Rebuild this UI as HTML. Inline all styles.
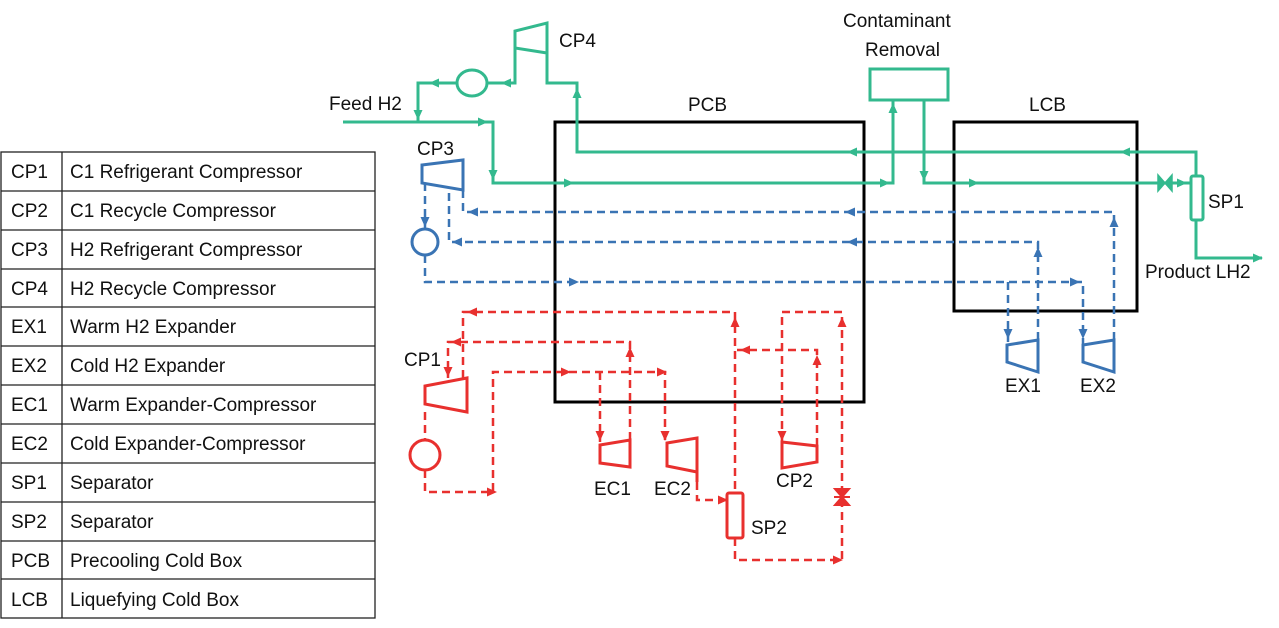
<!DOCTYPE html>
<html><head><meta charset="utf-8"><style>
html,body{margin:0;padding:0;background:#fff;}
svg{display:block;font-family:"Liberation Sans",Calibri,sans-serif;}
</style></head><body>
<svg width="1279" height="628" viewBox="0 0 1279 628" xmlns="http://www.w3.org/2000/svg">
<defs>
<marker id="g" markerWidth="12" markerHeight="12" refX="9" refY="6" orient="auto" markerUnits="userSpaceOnUse"><path d="M0,1.5 L10,6 L0,10.5 z" fill="#33b98e"/></marker>
<marker id="b" markerWidth="12" markerHeight="12" refX="9" refY="6" orient="auto" markerUnits="userSpaceOnUse"><path d="M0,1.5 L10,6 L0,10.5 z" fill="#3a74b4"/></marker>
<marker id="r" markerWidth="12" markerHeight="12" refX="9" refY="6" orient="auto" markerUnits="userSpaceOnUse"><path d="M0,1.5 L10,6 L0,10.5 z" fill="#e8302e"/></marker>
</defs>

<!-- table -->
<g stroke="#222" stroke-width="1.3" fill="none">
<rect x="1" y="152" width="374" height="466"/>
<line x1="62" y1="152" x2="62" y2="618"/>
<line x1="1" y1="191" x2="375" y2="191"/><line x1="1" y1="230" x2="375" y2="230"/>
<line x1="1" y1="269" x2="375" y2="269"/><line x1="1" y1="307" x2="375" y2="307"/>
<line x1="1" y1="346" x2="375" y2="346"/><line x1="1" y1="385" x2="375" y2="385"/>
<line x1="1" y1="424" x2="375" y2="424"/><line x1="1" y1="463" x2="375" y2="463"/>
<line x1="1" y1="502" x2="375" y2="502"/><line x1="1" y1="541" x2="375" y2="541"/>
<line x1="1" y1="579" x2="375" y2="579"/>
</g>
<g font-size="19" fill="#111">
<text x="11" y="178">CP1</text><text x="70" y="178">C1 Refrigerant Compressor</text>
<text x="11" y="217">CP2</text><text x="70" y="217">C1 Recycle Compressor</text>
<text x="11" y="256">CP3</text><text x="70" y="256">H2 Refrigerant Compressor</text>
<text x="11" y="295">CP4</text><text x="70" y="295">H2 Recycle Compressor</text>
<text x="11" y="333">EX1</text><text x="70" y="333">Warm H2 Expander</text>
<text x="11" y="372">EX2</text><text x="70" y="372">Cold H2 Expander</text>
<text x="11" y="411">EC1</text><text x="70" y="411">Warm Expander-Compressor</text>
<text x="11" y="450">EC2</text><text x="70" y="450">Cold Expander-Compressor</text>
<text x="11" y="489">SP1</text><text x="70" y="489">Separator</text>
<text x="11" y="528">SP2</text><text x="70" y="528">Separator</text>
<text x="11" y="567">PCB</text><text x="70" y="567">Precooling Cold Box</text>
<text x="11" y="606">LCB</text><text x="70" y="606">Liquefying Cold Box</text>
</g>

<!-- boxes -->
<rect x="555" y="122" width="309" height="280" fill="none" stroke="#000" stroke-width="3"/>
<rect x="954" y="122" width="183" height="189" fill="none" stroke="#000" stroke-width="3"/>

<!-- labels -->
<g font-size="19" fill="#111">
<text x="688" y="111">PCB</text><text x="1029" y="111">LCB</text>
<text x="843" y="27">Contaminant</text><text x="865" y="56">Removal</text>
<text x="329" y="110">Feed H2</text><text x="559" y="47">CP4</text>
<text x="417" y="155">CP3</text><text x="404" y="366">CP1</text>
<text x="1208" y="208">SP1</text><text x="1145" y="278">Product LH2</text>
<text x="1005" y="392">EX1</text><text x="1080" y="392">EX2</text>
<text x="594" y="495">EC1</text><text x="654" y="495">EC2</text>
<text x="776" y="487">CP2</text><text x="751" y="534">SP2</text>
</g>

<!-- green -->
<g stroke="#33b98e" stroke-width="3" fill="none">
<path d="M343 122 H493 V183 H893 V100"/>
<rect x="870" y="69" width="78" height="31"/>
<path d="M924 100 V183 H1190"/>
<rect x="1191" y="176" width="12" height="44" rx="2"/>
<path d="M1196 176 V152 H577 V83 H547 V23 L515 31 V48 L547 53"/>
<path d="M515 48 V83 H487"/>
<ellipse cx="472" cy="83" rx="15" ry="13"/>
<path d="M457 83 H418 V122"/>
<path d="M1196 220 V258 H1262"/>
</g>
<path d="M1158 175 L1172 191 L1172 175 L1158 191 Z" fill="#33b98e" stroke="#33b98e" stroke-width="1.5"/>
<g stroke="#33b98e" stroke-width="1" fill="none">
<path d="M484 122 h3" marker-end="url(#g)"/>
<path d="M418 115 v4" marker-end="url(#g)"/>
<path d="M433 83 h-3" marker-end="url(#g)"/>
<path d="M505 83 h-3" marker-end="url(#g)"/>
<path d="M577 92 v-3" marker-end="url(#g)"/>
<path d="M493 176 v3" marker-end="url(#g)"/>
<path d="M570 183 h3" marker-end="url(#g)"/>
<path d="M885 183 h4" marker-end="url(#g)"/>
<path d="M893 110 v-6" marker-end="url(#g)"/>
<path d="M924 176 v4" marker-end="url(#g)"/>
<path d="M975 183 h3" marker-end="url(#g)"/>
<path d="M1183 183 h3" marker-end="url(#g)"/>
<path d="M1124 152 h-3" marker-end="url(#g)"/>
<path d="M851 152 h-3" marker-end="url(#g)"/>
<path d="M1258 258 h4" marker-end="url(#g)"/>
</g>

<!-- blue -->
<g stroke="#3a74b4" stroke-width="3" fill="none">
<path d="M422 165 L463 160 V190 L422 183 Z"/>
<ellipse cx="425" cy="242" rx="13" ry="13"/>
<path d="M1007 345 L1038 340 V372 L1007 362 Z"/>
<path d="M1083 345 L1114 340 V372 L1083 362 Z"/>
</g>
<g stroke="#3a74b4" stroke-width="2.5" fill="none" stroke-dasharray="8 5">
<path d="M1114 340 V212 H463 V190"/>
<path d="M1038 340 V242 H449 V190"/>
<path d="M425 183 V229"/>
<path d="M425 255 V282 H1083 V345"/>
<path d="M1008 282 V345"/>
</g>
<g stroke="#3a74b4" stroke-width="1" fill="none">
<path d="M472 212 h-3" marker-end="url(#b)"/>
<path d="M849 212 h-3" marker-end="url(#b)"/>
<path d="M456 242 h-3" marker-end="url(#b)"/>
<path d="M851 242 h-3" marker-end="url(#b)"/>
<path d="M425 222 v4" marker-end="url(#b)"/>
<path d="M574 282 h4" marker-end="url(#b)"/>
<path d="M1075 282 h4" marker-end="url(#b)"/>
<path d="M1008 334 v4" marker-end="url(#b)"/>
<path d="M1083 334 v4" marker-end="url(#b)"/>
<path d="M1038 253 v-5" marker-end="url(#b)"/>
<path d="M1114 223 v-5" marker-end="url(#b)"/>
</g>

<!-- red -->
<g stroke="#e8302e" stroke-width="3" fill="none">
<path d="M425 386 L467 378 V412 L425 404 Z"/>
<circle cx="425" cy="455" r="15"/>
<path d="M600 445 L630 440 V467 L600 463 Z"/>
<path d="M667 443 L697 438 V472 L667 466 Z"/>
<path d="M697 472 V482"/>
<rect x="727" y="493" width="16" height="45" rx="2"/>
<path d="M782 442 L817 446 V462 L782 468 Z"/>
</g>
<path d="M835 489 L849 489 L835 505 L849 505 Z M834 497 H850" fill="#e8302e" stroke="#e8302e" stroke-width="2"/>
<g stroke="#e8302e" stroke-width="2.5" fill="none" stroke-dasharray="8 5">
<path d="M425 412 V440"/>
<path d="M425 470 V492 H493 V372 H665 V442"/>
<path d="M600 372 V442"/>
<path d="M630 440 V342 H448 V378"/>
<path d="M463 378 V312 H735 V493"/>
<path d="M697 482 V500 H727"/>
<path d="M735 538 V560 H842 V312 H782 V442"/>
<path d="M817 446 V350 H737"/>
</g>
<g stroke="#e8302e" stroke-width="1" fill="none">
<path d="M492 492 h4" marker-end="url(#r)"/>
<path d="M566 372 h4" marker-end="url(#r)"/>
<path d="M662 372 h4" marker-end="url(#r)"/>
<path d="M600 436 v4" marker-end="url(#r)"/>
<path d="M665 436 v4" marker-end="url(#r)"/>
<path d="M630 352 v-4" marker-end="url(#r)"/>
<path d="M456 342 h-4" marker-end="url(#r)"/>
<path d="M448 372 v4" marker-end="url(#r)"/>
<path d="M472 312 h-4" marker-end="url(#r)"/>
<path d="M735 322 v-4" marker-end="url(#r)"/>
<path d="M723 500 h4" marker-end="url(#r)"/>
<path d="M838 560 h4" marker-end="url(#r)"/>
<path d="M842 322 v-4" marker-end="url(#r)"/>
<path d="M782 436 v4" marker-end="url(#r)"/>
<path d="M817 360 v-4" marker-end="url(#r)"/>
<path d="M745 350 h-4" marker-end="url(#r)"/>
</g>
</svg>
</body></html>
